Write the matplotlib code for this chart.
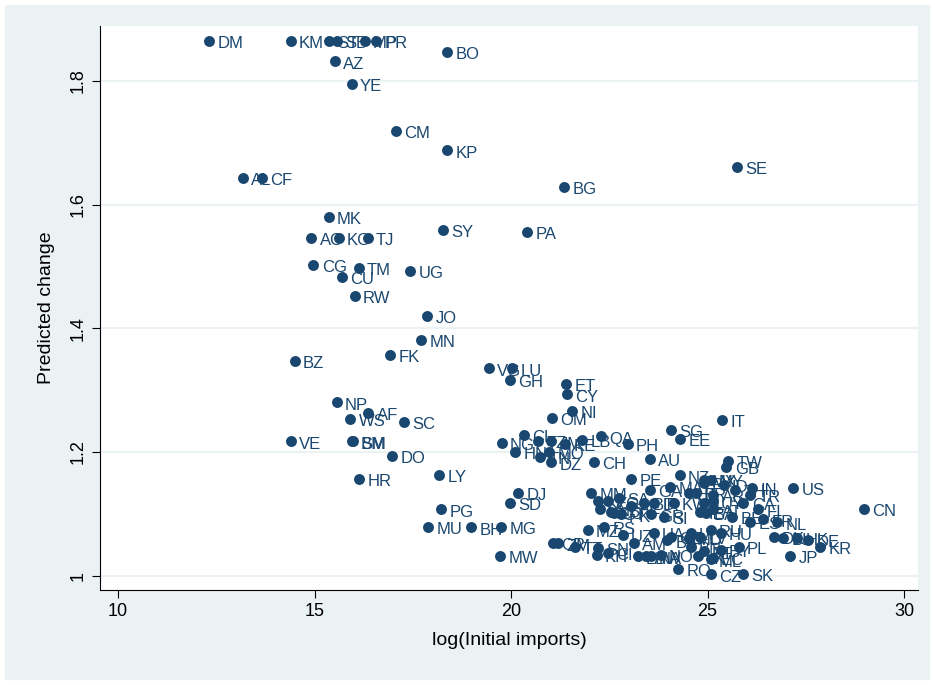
import matplotlib.pyplot as plt

plt.rcParams['font.family'] = ['Liberation Sans', 'DejaVu Sans']

# country codes, log(initial imports), predicted change
codes = ["DM", "KM", "ST", "SB", "MP", "PR", "BO", "AZ", "YE", "CM",
         "KP", "SE", "AL", "CF", "BG", "MK", "SY", "PA", "AO", "KG",
         "TJ", "CG", "TM", "UG", "CU", "RW", "JO", "MN", "FK", "BZ",
         "VG", "LU", "GH", "ET", "CY", "NI", "OM", "IT", "NP", "AF",
         "WS", "SC", "SG", "EE", "VE", "BM", "SM", "DO", "HR", "LY",
         "NG", "CL", "HN", "TZ", "JM", "KE", "MO", "TN", "DZ", "LB",
         "CH", "QA", "PH", "AU", "PE", "DJ", "SD", "PG", "MU", "BH",
         "MG", "MW", "GB", "TW", "US", "CN", "KR", "JP", "DE", "NL",
         "FI", "IN", "TR", "MX", "NZ", "MY", "ID", "TH", "BR", "AR",
         "IL", "IE", "AT", "BE", "ES", "CA", "FR", "DK", "BL", "HK",
         "LT", "LV", "RU", "HU", "LK", "PL", "EC", "CZ", "SK", "RO",
         "BY", "PT", "MM", "KZ", "VN", "SA", "GT", "EG", "CO", "PK",
         "AE", "BD", "IR", "GR", "SI", "KW", "RS", "MA", "HT", "PY",
         "UY", "BA", "MZ", "UZ", "AM", "UA", "GE", "MD", "BN", "SN",
         "CI", "LA", "BW", "NO", "CR", "ZM", "TT", "KH", "NA", "BB",
         "GA", "ML"]

log_imports = [12.31, 14.39, 15.36, 15.58, 16.27, 16.57, 18.38, 15.51, 15.94, 17.06,
               18.38, 25.74, 13.17, 13.65, 21.35, 15.36, 18.27, 20.41, 14.92, 15.61,
               16.35, 14.97, 16.12, 17.44, 15.69, 16.02, 17.87, 17.72, 16.93, 14.49,
               19.44, 20.03, 19.97, 21.40, 21.42, 21.55, 21.04, 25.36, 15.56, 16.37,
               15.91, 17.28, 24.06, 24.31, 14.39, 15.96, 15.98, 16.98, 16.14, 18.17,
               19.76, 20.33, 20.10, 20.69, 21.02, 21.37, 20.96, 20.74, 21.02, 21.80,
               22.11, 22.28, 22.97, 23.53, 23.05, 20.18, 19.97, 18.22, 17.89, 18.98,
               19.75, 19.72, 25.48, 25.53, 27.18, 28.98, 27.87, 27.11, 27.56, 26.78,
               26.29, 26.14, 26.09, 24.90, 24.29, 25.08, 25.41, 25.71, 24.70, 25.15,
               24.90, 24.82, 25.15, 25.63, 26.09, 25.91, 26.42, 26.68, 26.93, 27.28,
               24.57, 24.82, 25.08, 25.33, 24.75, 25.79, 25.13, 25.08, 25.91, 24.26,
               25.33, 24.90, 22.03, 22.21, 22.26, 22.74, 22.61, 22.46, 22.54, 22.79,
               23.05, 23.38, 23.63, 23.55, 23.88, 24.14, 22.36, 24.04, 24.52, 24.90,
               25.13, 24.95, 21.95, 22.84, 23.12, 23.63, 24.06, 24.52, 24.57, 22.21,
               22.46, 23.22, 23.43, 23.81, 21.07, 21.19, 21.62, 22.18, 23.55, 23.98,
               23.53, 25.08]

pred_change = [1.865, 1.865, 1.865, 1.865, 1.865, 1.865, 1.847, 1.832, 1.795, 1.719,
               1.688, 1.661, 1.643, 1.643, 1.629, 1.580, 1.559, 1.556, 1.546, 1.546,
               1.546, 1.503, 1.498, 1.493, 1.483, 1.453, 1.420, 1.381, 1.357, 1.347,
               1.335, 1.335, 1.317, 1.310, 1.293, 1.267, 1.255, 1.252, 1.280, 1.263,
               1.254, 1.249, 1.236, 1.221, 1.217, 1.217, 1.217, 1.194, 1.157, 1.163,
               1.215, 1.228, 1.200, 1.218, 1.217, 1.213, 1.200, 1.192, 1.183, 1.219,
               1.184, 1.225, 1.213, 1.189, 1.157, 1.134, 1.118, 1.107, 1.079, 1.078,
               1.079, 1.032, 1.176, 1.186, 1.142, 1.108, 1.047, 1.032, 1.058, 1.086,
               1.107, 1.142, 1.131, 1.155, 1.162, 1.155, 1.147, 1.139, 1.134, 1.131,
               1.118, 1.103, 1.107, 1.095, 1.087, 1.118, 1.091, 1.063, 1.061, 1.061,
               1.069, 1.063, 1.074, 1.069, 1.031, 1.047, 1.029, 1.002, 1.003, 1.011,
               1.042, 1.039, 1.134, 1.120, 1.108, 1.126, 1.102, 1.120, 1.103, 1.099,
               1.112, 1.118, 1.118, 1.099, 1.095, 1.118, 1.079, 1.144, 1.134, 1.150,
               1.120, 1.102, 1.074, 1.066, 1.053, 1.069, 1.063, 1.061, 1.047, 1.045,
               1.037, 1.031, 1.031, 1.034, 1.053, 1.052, 1.047, 1.034, 1.031, 1.057,
               1.139, 1.026]

navy = '#1a476f'
light = '#eaf2f3'

fig = plt.figure(figsize=(9.35, 6.85), dpi=100, facecolor=light)
fig.patches.append(plt.Rectangle((0, 0), 1, 1, transform=fig.transFigure,
                                 fill=False, edgecolor='white', lw=7))
ax = fig.add_axes([0.107, 0.139, 0.875, 0.823])
ax.set_facecolor('white')

ax.scatter(log_imports, pred_change, s=62, color=navy, zorder=3, linewidths=0)
for c, x, y in zip(codes, log_imports, pred_change):
    ax.annotate(c, (x, y), xytext=(6, -2), textcoords='offset points',
                va='center', ha='left', fontsize=12, color=navy, zorder=4)

ax.set_xlim(9.54, 30.36)
ax.set_ylim(0.977, 1.889)
ax.set_xticks([10, 15, 20, 25, 30])
ax.set_yticks([1, 1.2, 1.4, 1.6, 1.8])
ax.set_yticklabels(['1', '1.2', '1.4', '1.6', '1.8'], rotation=90, va='center')
ax.grid(axis='y', color=light, lw=1.5, zorder=0)
ax.set_axisbelow(True)
for s in ['top', 'right']:
    ax.spines[s].set_visible(False)
ax.tick_params(direction='out', length=6, labelsize=13)
ax.set_xlabel('log(Initial imports)', fontsize=14, labelpad=9)
ax.set_ylabel('Predicted change', fontsize=14, labelpad=11)

plt.savefig('out.png', dpi=100, facecolor=fig.get_facecolor())
